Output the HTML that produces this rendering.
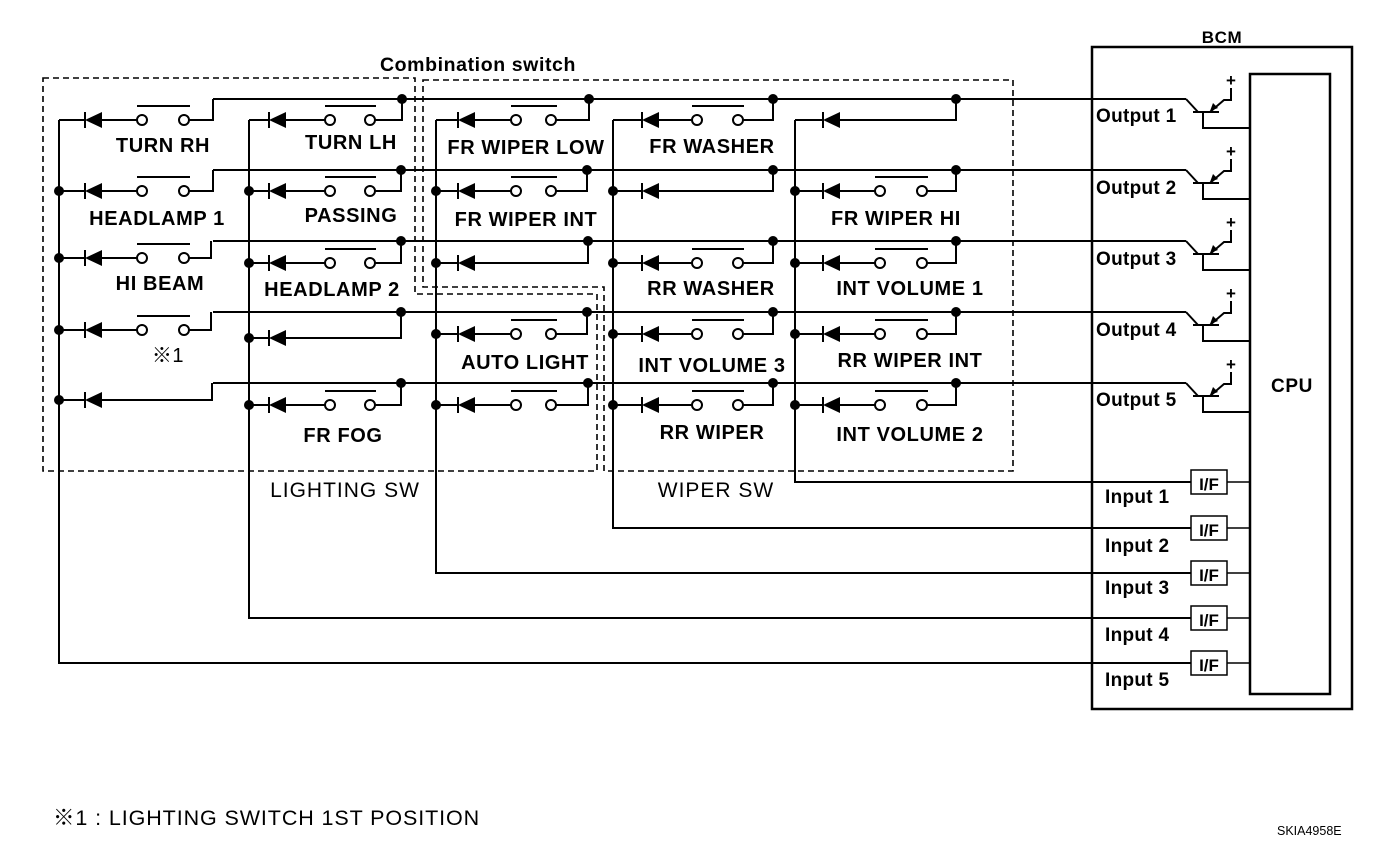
<!DOCTYPE html>
<html><head><meta charset="utf-8"><style>
html,body{margin:0;padding:0;background:#fff;}
svg{display:block;}
text{font-family:"Liberation Sans","Noto Sans CJK JP",sans-serif;fill:#000;}
.l{font-size:20px;font-weight:bold;letter-spacing:0.6px;text-anchor:middle;}
.o{font-size:19px;font-weight:bold;letter-spacing:0.3px;}
</style></head><body>
<svg id="s" width="1392" height="850" viewBox="0 0 1392 850" xmlns="http://www.w3.org/2000/svg">
<g id="g" stroke="#000" fill="none" stroke-width="2"></g>
<g stroke="#000" fill="none" stroke-width="1.6" stroke-dasharray="6,4">
<path d="M43 78 H415 V294 H597 V471 H43 Z"/>
<path d="M423 80 H1013 V471 H604 V287 H423 Z"/>
</g>
<text class="l" x="163" y="152">TURN RH</text>
<text class="l" x="157" y="225">HEADLAMP 1</text>
<text class="l" x="160" y="290">HI BEAM</text>
<text class="l" x="168" y="362" style="font-weight:normal">※1</text>
<text class="l" x="351" y="149">TURN LH</text>
<text class="l" x="351" y="222">PASSING</text>
<text class="l" x="332" y="296">HEADLAMP 2</text>
<text class="l" x="343" y="442">FR FOG</text>
<text class="l" x="526" y="154">FR WIPER LOW</text>
<text class="l" x="526" y="226">FR WIPER INT</text>
<text class="l" x="525" y="369">AUTO LIGHT</text>
<text class="l" x="712" y="153">FR WASHER</text>
<text class="l" x="711" y="295">RR WASHER</text>
<text class="l" x="712" y="372">INT VOLUME 3</text>
<text class="l" x="712" y="439">RR WIPER</text>
<text class="l" x="896" y="225">FR WIPER HI</text>
<text class="l" x="910" y="295">INT VOLUME 1</text>
<text class="l" x="910" y="367">RR WIPER INT</text>
<text class="l" x="910" y="441">INT VOLUME 2</text>
<text class="l" x="345" y="497" style="font-weight:normal;font-size:21px;letter-spacing:1px">LIGHTING SW</text>
<text class="l" x="716" y="497" style="font-weight:normal;font-size:21px;letter-spacing:1px">WIPER SW</text>
<text class="l" x="478" y="71" style="font-size:19.5px">Combination switch</text>
<text class="l" x="1222" y="43" style="font-size:17px">BCM</text>
<text class="l" x="1292" y="392" style="font-size:19px">CPU</text>
<text class="o" x="1096" y="122">Output 1</text>
<text class="o" x="1096" y="194">Output 2</text>
<text class="o" x="1096" y="265">Output 3</text>
<text class="o" x="1096" y="336">Output 4</text>
<text class="o" x="1096" y="406">Output 5</text>
<text class="o" x="1105" y="503">Input 1</text>
<text class="o" x="1105" y="552">Input 2</text>
<text class="o" x="1105" y="594">Input 3</text>
<text class="o" x="1105" y="641">Input 4</text>
<text class="o" x="1105" y="686">Input 5</text>
<text x="1209" y="490" style="font-size:17px;font-weight:bold" text-anchor="middle">I/F</text>
<text x="1209" y="536" style="font-size:17px;font-weight:bold" text-anchor="middle">I/F</text>
<text x="1209" y="581" style="font-size:17px;font-weight:bold" text-anchor="middle">I/F</text>
<text x="1209" y="626" style="font-size:17px;font-weight:bold" text-anchor="middle">I/F</text>
<text x="1209" y="671" style="font-size:17px;font-weight:bold" text-anchor="middle">I/F</text>
<text x="1231" y="86" style="font-size:17px;font-weight:bold" text-anchor="middle">+</text>
<text x="1231" y="157" style="font-size:17px;font-weight:bold" text-anchor="middle">+</text>
<text x="1231" y="228" style="font-size:17px;font-weight:bold" text-anchor="middle">+</text>
<text x="1231" y="299" style="font-size:17px;font-weight:bold" text-anchor="middle">+</text>
<text x="1231" y="370" style="font-size:17px;font-weight:bold" text-anchor="middle">+</text>
<text x="53" y="825" style="font-size:21.5px;letter-spacing:0.9px">※1 : LIGHTING SWITCH 1ST POSITION</text>
<text x="1277" y="835" style="font-size:12.5px">SKIA4958E</text>
</svg>
<script>
(function(){
var g=document.getElementById('g'),NS='http://www.w3.org/2000/svg';
function el(t,a){var e=document.createElementNS(NS,t);for(var k in a)e.setAttribute(k,a[k]);g.appendChild(e);return e;}
function line(d,w){el('path',{d:d,'stroke-width':w||2});}
function dot(x,y){el('circle',{cx:x,cy:y,r:5,fill:'#000',stroke:'none'});}
var buses=[99,170,241,312,383];
buses.forEach(function(b){line('M213 '+b+' H1186');});
var cols=[
 {x:59,bar:85,c1:142,c2:184,end:663,rows:[[120,213,99,1,1],[191,213,170,1,0],[258,211,241,1,0],[330,211,312,1,0],[400,212,383,0,0]],nodot:1},
 {x:249,bar:269,c1:330,c2:370,end:618,rows:[[120,402,99,1,1],[191,401,170,1,0],[263,401,241,1,0],[338,401,312,0,0],[405,401,383,1,0]]},
 {x:436,bar:458,c1:516,c2:551,end:573,rows:[[120,589,99,1,1],[191,587,170,1,0],[263,588,241,0,0],[334,587,312,1,0],[405,588,383,1,0]]},
 {x:613,bar:642,c1:697,c2:738,end:528,rows:[[120,773,99,1,1],[191,773,170,0,0],[263,773,241,1,0],[334,773,312,1,0],[405,773,383,1,0]]},
 {x:795,bar:823,c1:880,c2:922,end:482,rows:[[120,956,99,0,1],[191,956,170,1,0],[263,956,241,1,0],[334,956,312,1,0],[405,956,383,1,0]]}
];
cols.forEach(function(c){
 line('M'+c.x+' 120 V'+c.end+' H1191');
 c.rows.forEach(function(r){
  var y=r[0],lk=r[1],b=r[2],sw=r[3],top=r[4];
  line('M'+c.x+' '+y+' H'+c.bar);
  line('M'+c.bar+' '+(y-8)+' V'+(y+8));
  el('path',{d:'M'+c.bar+' '+y+' L'+(c.bar+17)+' '+(y-8)+' L'+(c.bar+17)+' '+(y+8)+' Z',fill:'#000',stroke:'none'});
  if(sw){
   line('M'+(c.bar+17)+' '+y+' H'+(c.c1-5));
   el('circle',{cx:c.c1,cy:y,r:5,fill:'#fff'});
   el('circle',{cx:c.c2,cy:y,r:5,fill:'#fff'});
   line('M'+(c.c2+5)+' '+y+' H'+lk+' V'+b);
   line('M'+(c.c1-5)+' '+(y-14)+' H'+(c.c2+6));
  } else {
   line('M'+(c.bar+17)+' '+y+' H'+lk+' V'+b);
  }
  if(!c.nodot) dot(lk,b);
  if(!top) dot(c.x,y);
 });
});
el('rect',{x:1092,y:47,width:260,height:662,'stroke-width':2.5});
el('rect',{x:1250,y:74,width:80,height:620,'stroke-width':2.5});
buses.forEach(function(b){
 line('M1186 '+b+' L1198 '+(b+13));
 line('M1193 '+(b+13)+' H1219');
 line('M1203 '+(b+13)+' V'+(b+29)+' H1250');
 line('M1210 '+(b+13)+' L1224 '+(b+1)+' H1231 V'+(b-11));
 el('path',{d:'M1210 '+(b+12)+' L1213 '+(b+4)+' L1218 '+(b+9)+' Z',fill:'#000',stroke:'none'});
});
[482,528,573,618,663].forEach(function(y){
 el('rect',{x:1191,y:y-12,width:36,height:24,'stroke-width':1.5});
 line('M1227 '+y+' H1250',1.5);
});
})();
</script>
</body></html>
